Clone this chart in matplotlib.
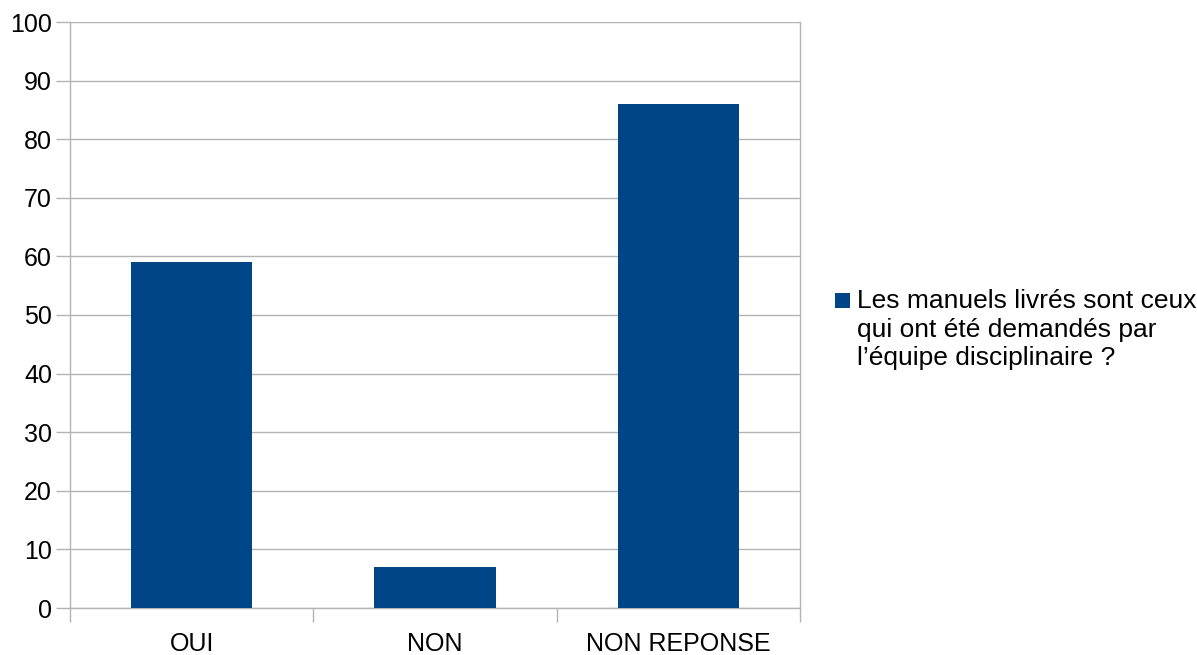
import matplotlib
matplotlib.use("Agg")
import matplotlib.pyplot as plt
from matplotlib.patches import Rectangle

categories = ["OUI", "NON", "NON REPONSE"]
values = [59, 7, 86]
series_name = "Les manuels livrés sont ceux\nqui ont été demandés par\nl’équipe disciplinaire ?"
yticks = [0, 10, 20, 30, 40, 50, 60, 70, 80, 90, 100]

plt.rcParams['font.family'] = ['Liberation Sans', 'DejaVu Sans']

fig = plt.figure(figsize=(11.97, 6.55), dpi=100)
W, H = 1197, 655
ax = fig.add_axes([70 / W, 1 - 608 / H, (800 - 70) / W, (608 - 22) / H])

color = "#004586"
x = list(range(len(categories)))
ax.bar(x, values, width=0.5, color=color, zorder=3, label=series_name)
ax.set_xlim(-0.5, len(categories) - 0.5)
ax.set_ylim(0, 100)
ax.set_yticks(yticks)
ax.set_yticklabels([str(v) for v in yticks], fontsize=18)
ax.yaxis.grid(True, color="#b3b3b3", linewidth=1, zorder=0)

ax.set_xticks(x)
ax.set_xticklabels(categories, fontsize=18)
ax.tick_params(axis='x', length=0, pad=17)
ax.set_xticks([i - 0.5 for i in range(len(categories) + 1)], minor=True)
ax.tick_params(axis='x', which='minor', length=10, color="#b3b3b3", width=1)
ax.tick_params(axis='y', length=10, color="#b3b3b3", width=1, pad=3)

for side in ["top"]:
    ax.spines[side].set_visible(False)
for side in ["left", "bottom", "right"]:
    ax.spines[side].set_color("#b3b3b3")
    ax.spines[side].set_linewidth(1)

# legend
fig.patches.append(Rectangle((835 / W, 1 - 308 / H), 15 / W, 15 / H,
                             transform=fig.transFigure, facecolor=color, edgecolor='none'))
fig.text(857 / W, 1 - 289 / H, series_name, fontsize=19, va='top', ha='left',
         linespacing=1.25)

fig.savefig("out.png", dpi=100)
